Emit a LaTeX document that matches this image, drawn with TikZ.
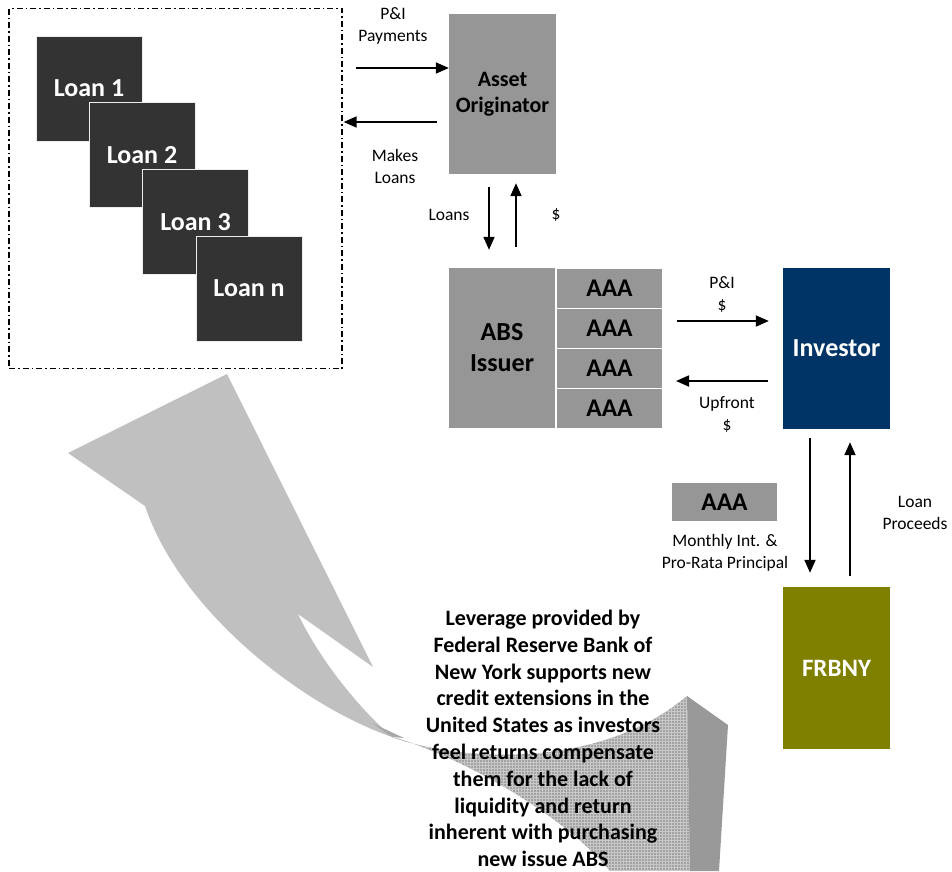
\documentclass[tikz,border=0pt]{standalone}
\usepackage{fontspec}
\setmainfont{Carlito}
\usetikzlibrary{arrows.meta,calc}
\definecolor{boxgray}{HTML}{969696}
\definecolor{loangray}{HTML}{333333}
\definecolor{navyblue}{HTML}{003366}
\definecolor{olivebox}{HTML}{808000}
\definecolor{arrowlight}{HTML}{C0C0C0}
\definecolor{arrowdark}{HTML}{999999}
\definecolor{arrowmid}{HTML}{A2A2A2}
\definecolor{gridline}{HTML}{C8C8C8}
\definecolor{twistgray}{HTML}{A8A8A8}
\begin{document}
\begin{tikzpicture}[x=1pt,y=-1pt,
  box/.style={rectangle, inner sep=0pt, align=center},
  loanbox/.style={box, fill=loangray, draw=white!85!gray, line width=1pt, minimum width=106pt, minimum height=105pt, text=white, font=\fontsize{26}{31}\selectfont\bfseries},
  graybox/.style={box, fill=boxgray, text=black},
  tranche/.style={graybox, draw=white, line width=1pt, minimum width=106pt, minimum height=40pt, font=\fontsize{25.5}{30}\selectfont\bfseries},
  lbl/.style={align=center, inner sep=0pt, font=\fontsize{17.5}{22}\selectfont},
  arr/.style={line width=1.8pt, -{Triangle[length=13pt,width=11pt]}},
]
\useasboundingbox (0,0) rectangle (952,871);

% big curved arrow
\fill[arrowlight] (227,374) -- (373,667) -- (298,614)
  .. controls (315,650) and (350,700) .. (392,737)
  .. controls (300,705) and (180,610) .. (145,506)
  -- (68,453) -- cycle;
\fill[twistgray] (372,723) -- (404,738) -- (392,737) -- cycle;
\begin{scope}
  \clip (392,737) .. controls (460,762) and (600,770) .. (687,696)
    -- (690,871) -- (610,871) .. controls (560,810) and (450,752) .. (392,737) -- cycle;
  \fill[arrowmid] (380,690) rectangle (700,871);
  \foreach \gx in {380,383,...,700} \draw[gridline, line width=0.6pt] (\gx,690) -- (\gx,871);
  \foreach \gy in {690,693,...,871} \draw[gridline, line width=0.6pt] (380,\gy) -- (700,\gy);
\end{scope}
\fill[arrowdark] (687,696) -- (728,725) -- (719,871) -- (690,871) -- cycle;

% loan pool
\node[box, draw, line width=1.3pt, dash pattern=on 6pt off 3pt on 1.5pt off 3pt,
  minimum width=333pt, minimum height=360pt] (pool) at (175.5,188.5) {};
\node[loanbox] (loan1) at (89,88.5) {Loan 1};
\node[loanbox] (loan2) at (142,155) {Loan 2};
\node[loanbox] (loan3) at (195.5,222) {Loan 3};
\node[loanbox] (loann) at (249,288.5) {Loan n};

% originator and issuer
\node[graybox, minimum width=107pt, minimum height=160pt, font=\fontsize{22}{26.5}\selectfont\bfseries] (orig) at (502.5,94) {Asset\\Originator};
\node[graybox, minimum width=106pt, minimum height=160pt, font=\fontsize{26}{31}\selectfont\bfseries] (issuer) at (502,348) {ABS\\Issuer};
\node[tranche] (aaa1) at (609.5,288) {AAA};
\node[tranche] (aaa2) at (609.5,328) {AAA};
\node[tranche] (aaa3) at (609.5,368) {AAA};
\node[tranche] (aaa4) at (609.5,408) {AAA};

% investor, FRBNY
\node[box, fill=navyblue, text=white, minimum width=107pt, minimum height=161pt, font=\fontsize{26}{31}\selectfont\bfseries] (investor) at (836.5,348.5) {Investor};
\node[box, fill=olivebox, text=white, minimum width=107pt, minimum height=162pt, font=\fontsize{25}{30}\selectfont\bfseries] (frbny) at (836.5,668) {FRBNY};
\node[graybox, minimum width=105pt, minimum height=38pt, font=\fontsize{25.5}{30}\selectfont\bfseries] (aaa5) at (724.5,502) {AAA};

% arrows
\draw[arr] ($(pool.east|-orig.west)+(13,-26)$) -- ($(orig.west)+(0,-26)$);
\draw[arr] ($(orig.west)+(-12,28)$) -- ($(pool.east|-orig.west)+(1,28)$);
\draw[arr] ($(orig.south)+(-13.5,13)$) -- ($(issuer.north)+(-13,-18)$);
\draw[arr] ($(issuer.north)+(14,-21)$) -- ($(orig.south)+(13.5,9)$);
\draw[arr] ($(aaa2.east)+(14,-7)$) -- ($(investor.west)+(-14,-27.5)$);
\draw[arr] ($(investor.west)+(-15,32.5)$) -- ($(aaa3.east)+(13,13)$);
\draw[arr] ($(investor.south)+(-26.5,9)$) -- ($(frbny.north)+(-26.5,-14)$);
\draw[arr] ($(frbny.north)+(13.5,-11)$) -- ($(investor.south)+(13.5,13)$);

% labels
\node[lbl] (lpi) at (393,26) {P\&I\\Payments};
\node[lbl] (lmake) at (395,166) {Makes\\Loans};
\node[lbl] (lloans) at (449,215) {Loans};
\node[lbl] (ldollar) at (556,215) {\$};
\node[lbl] (lpi2) at (722,294) {P\&I\\\$};
\node[lbl] (lup) at (727,414) {Upfront\\\$};
\node[lbl] (lmonthly) at (725,552.5) {Monthly Int. \&\\Pro-Rata Principal};
\node[lbl] (lproc) at (915,512.5) {Loan\\Proceeds};

\node[align=center, inner sep=0pt, font=\fontsize{22}{26.8}\selectfont\bfseries] (note) at (543,738.5)
  {Leverage provided by\\Federal Reserve Bank of\\New York supports new\\credit extensions in the\\United States as investors\\feel returns compensate\\them for the lack of\\liquidity and return\\inherent with purchasing\\new issue ABS};
\end{tikzpicture}
\end{document}
